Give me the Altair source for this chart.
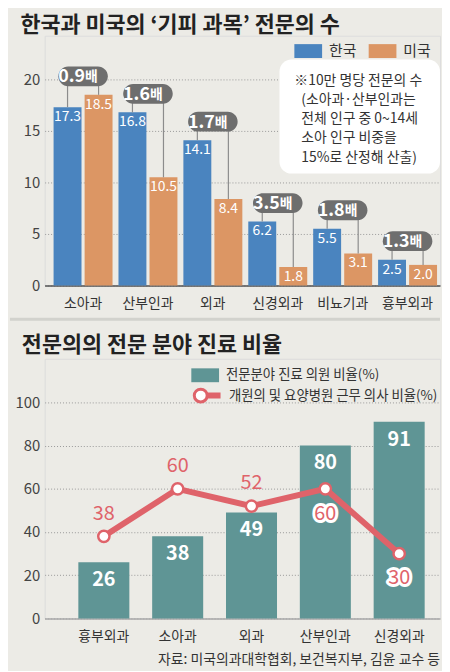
import altair as alt
import pandas as pd

FONT = "Noto Sans CJK KR"

# ---------------- data ----------------
title_top = "한국과 미국의 ‘기피 과목’ 전문의 수"
countries = ["한국", "미국"]
country_colors = ["#4a84bf", "#dc9664"]
specialties_top = ["소아과", "산부인과", "외과", "신경외과", "비뇨기과", "흉부외과"]
korea = [17.3, 16.8, 14.1, 6.2, 5.5, 2.5]
usa = [18.5, 10.5, 8.4, 1.8, 3.1, 2.0]
ratios = ["0.9", "1.6", "1.7", "3.5", "1.8", "1.3"]
ratio_unit = "배"
note_first = "※10만 명당 전문의 수"
note_rest = ["(소아과·산부인과는", "전체 인구 중 0~14세", "소아 인구 비중을", "15%로 산정해 산출)"]

title_bottom = "전문의의 전문 분야 진료 비율"
specialties_bottom = ["흉부외과", "소아과", "외과", "산부인과", "신경외과"]
specialty_share = [26, 38, 49, 80, 91]
clinic_share = [38, 60, 52, 60, 30]
bar_series = "전문분야 진료 의원 비율(%)"
line_series = "개원의 및 요양병원 근무 의사 비율(%)"
source = "자료: 미국의과대학협회, 보건복지부, 김윤 교수 등"

# ---------------- tables ----------------
long_rows = []
for s, k, u in zip(specialties_top, korea, usa):
    long_rows.append({"specialty": s, "country": countries[0], "value": k})
    long_rows.append({"specialty": s, "country": countries[1], "value": u})
top_long = pd.DataFrame(long_rows)
top_wide = pd.DataFrame({"specialty": specialties_top, "korea": korea, "usa": usa, "ratio": ratios})
top_wide["top"] = top_wide[["korea", "usa"]].max(axis=1)
note_df = pd.DataFrame({"note": [note_first]})

bot = pd.DataFrame({
    "specialty": specialties_bottom,
    "idx": list(range(len(specialties_bottom))),
    "bar": specialty_share,
    "line": clinic_share,
})

# ---------------- style ----------------
BG = "#ecebe6"
TXT = "#333333"
RED = "#df636a"
TEAL = "#5f9595"
BADGE = "#6e6e6e"
W_TOP, H_TOP = 399, 252
W_BOT, H_BOT = 399, 262
TOP_MAX = H_TOP / 10.4
BOT_MAX = H_BOT / 2.18
RECT = "M-1,-0.5L1,-0.5L1,0.5L-1,0.5Z"
STADIUM = "M-0.6,-0.4L0.6,-0.4A0.4,0.4 0 0,1 0.6,0.4L-0.6,0.4A0.4,0.4 0 0,1 -0.6,-0.4Z"
LOLLI = ("M-0.893,0A0.464,0.464 0 1,1 0.036,0A0.464,0.464 0 1,1 -0.893,0Z"
         "M0.036,-0.107L0.893,-0.107L0.893,0.107L0.036,0.107Z")

x_axis_top = alt.Axis(title=None, labelAngle=0, labelFontSize=14, labelColor=TXT,
                      labelPadding=11, ticks=False, domainColor="#555555", domainWidth=1.5,
                      grid=False, labelFont=FONT)
y_axis_top = alt.Axis(title=None, values=[0, 5, 10, 15, 20], grid=True, gridDash=[1, 2],
                      gridColor="#999999", ticks=False, domain=False, labelFontSize=15,
                      labelPadding=5, labelColor="#444444", labelFont=FONT)


def xt():
    return alt.X("specialty:N", sort=specialties_top,
                 scale=alt.Scale(paddingInner=0.0916, paddingOuter=0.0916, align=0.75),
                 axis=x_axis_top)


def yt(field):
    return alt.Y(f"{field}:Q", scale=alt.Scale(domain=[0, TOP_MAX], nice=False, zero=True),
                 axis=y_axis_top)


xoff = alt.XOffset("country:N", sort=countries, scale=alt.Scale(paddingInner=0.1, paddingOuter=0))

bars_top = alt.Chart(top_long).mark_bar().encode(
    x=xt(), xOffset=xoff, y=yt("value"),
    color=alt.Color("country:N", sort=countries,
                    scale=alt.Scale(domain=countries, range=country_colors),
                    legend=alt.Legend(title=None, orient="none", legendX=252, legendY=1.4,
                                      direction="horizontal", symbolType=RECT, symbolSize=784,
                                      symbolStrokeWidth=0, labelFontSize=15, labelOffset=7,
                                      columnPadding=12, padding=0, labelColor=TXT,
                                      labelFont=FONT, symbolOpacity=1)),
)

labels_top = alt.Chart(top_long).mark_text(color="white", fontSize=14, baseline="top", dy=3,
                                           font=FONT).encode(
    x=xt(), xOffset=xoff, y=yt("value"), text=alt.Text("value:Q", format=".1f"),
)

connectors = alt.Chart(top_long).transform_joinaggregate(
    top="max(value)", groupby=["specialty"]
).transform_calculate(badge_y="datum.top + 1.8").mark_rule(
    color="#8c8c8c", strokeWidth=1.2
).encode(x=xt(), xOffset=xoff, y=yt("value"), y2="badge_y:Q")

badge_base = alt.Chart(top_wide).transform_calculate(badge_y="datum.top + 1.8")
badges = badge_base.mark_point(shape=STADIUM, size=2500, filled=True, color=BADGE,
                               opacity=1, strokeWidth=0).encode(x=xt(), y=yt("badge_y"))
badge_num = badge_base.mark_text(color="white", fontSize=18, fontWeight="bold", align="right",
                                 baseline="middle", dx=2, dy=1, font=FONT).encode(
    x=xt(), y=yt("badge_y"), text="ratio:N")
badge_unit = badge_base.mark_text(color="white", fontSize=14, fontWeight="bold", align="left",
                                  baseline="middle", dx=2, dy=1, font=FONT).encode(
    x=xt(), y=yt("badge_y"), text=alt.value(ratio_unit))

note_box = alt.Chart(note_df).mark_rect(fill="white", cornerRadius=12).encode(
    x=alt.value(237), x2=alt.value(399), y=alt.value(24), y2=alt.value(139))
note_text1 = alt.Chart(note_df).mark_text(align="left", baseline="middle", fontSize=14,
                                          color=TXT, font=FONT).encode(
    x=alt.value(252), y=alt.value(46), text=alt.value(note_first))
note_text2 = alt.Chart(note_df).mark_text(align="left", baseline="middle", fontSize=14,
                                          lineHeight=19.3, color=TXT, font=FONT).encode(
    x=alt.value(259), y=alt.value(65), text=alt.value(note_rest))
divider = alt.Chart(note_df).mark_rule(color="#d2d2cd", strokeWidth=3).encode(
    x=alt.value(-35), x2=alt.value(399), y=alt.value(H_TOP + 34))

top = alt.layer(
    bars_top, connectors, labels_top, badges, badge_num, badge_unit,
    note_box, note_text1, note_text2, divider,
).properties(
    width=W_TOP, height=H_TOP,
    title=alt.TitleParams(title_top, anchor="start", fontSize=22, fontWeight="bold",
                          color="#222222", dx=12, offset=-1, font=FONT),
)

# ---------------- bottom ----------------
x_axis_bot = alt.Axis(title=None, labelAngle=0, labelFontSize=14, labelColor=TXT,
                      labelPadding=11, ticks=False, domainColor="#aaaaaa", domainWidth=1.5,
                      grid=False, labelFont=FONT)
y_axis_bot = alt.Axis(title=None, values=[0, 20, 40, 60, 80, 100], grid=True, gridDash=[1, 2],
                      gridColor="#999999", ticks=False, domain=False, labelFontSize=15,
                      labelPadding=5, labelColor="#444444", labelFont=FONT)


def xb():
    return alt.X("specialty:N", sort=specialties_bottom,
                 scale=alt.Scale(paddingInner=0.309, paddingOuter=0.332, align=0.687),
                 axis=x_axis_bot)


def yb(field):
    return alt.Y(f"{field}:Q", scale=alt.Scale(domain=[0, BOT_MAX], nice=False), axis=y_axis_bot)


bot_base = alt.Chart(bot).transform_calculate(
    bar_name=f"'{bar_series}'", line_name=f"'{line_series}'")

bars_bot = bot_base.mark_bar().encode(
    x=xb(), y=yb("bar"),
    fill=alt.Fill("bar_name:N", scale=alt.Scale(range=[TEAL]),
                  legend=alt.Legend(title=None, orient="none", legendX=148, legendY=2.6,
                                    symbolType=RECT, symbolSize=784, symbolStrokeWidth=0,
                                    labelFontSize=13.5, labelOffset=7, padding=0, labelLimit=0,
                                    labelColor=TXT, labelFont=FONT, symbolOpacity=1)),
)
bar_labels = bot_base.mark_text(color="white", fontSize=20, fontWeight="bold",
                                baseline="middle", dy=18, font=FONT).encode(
    x=xb(), y=yb("bar"), text="bar:Q")

line = bot_base.mark_line(strokeWidth=6).encode(
    x=xb(), y=yb("line"), order="idx:Q",
    stroke=alt.Stroke("line_name:N", scale=alt.Scale(range=[RED]),
                      legend=alt.Legend(title=None, orient="none", legendX=148, legendY=21.6,
                                        symbolType=LOLLI, symbolSize=784, symbolStrokeWidth=3,
                                        symbolFillColor="white", labelFontSize=13.5,
                                        labelOffset=7, padding=0, labelLimit=0, labelColor=TXT,
                                        labelFont=FONT, symbolOpacity=1)),
)
points = bot_base.mark_point(filled=True, fill="white", stroke=RED, strokeWidth=2.5,
                             size=130, opacity=1).encode(x=xb(), y=yb("line"))
above = bot_base.transform_filter("datum.bar <= datum.line").mark_text(
    color=RED, fontSize=20, baseline="middle", dy=-23, font=FONT).encode(
    x=xb(), y=yb("line"), text="line:Q")
below_halo = bot_base.transform_filter("datum.bar > datum.line").mark_text(
    fill="white", stroke="white", strokeWidth=6, strokeJoin="round", fontSize=20,
    baseline="middle", dy=25, font=FONT).encode(x=xb(), y=yb("line"), text="line:Q")
below = bot_base.transform_filter("datum.bar > datum.line").mark_text(
    color=RED, fontSize=20, baseline="middle", dy=25, font=FONT).encode(
    x=xb(), y=yb("line"), text="line:Q")
source_text = alt.Chart(note_df).mark_text(align="right", baseline="middle", fontSize=14,
                                           color=TXT, font=FONT).encode(
    x=alt.value(399), y=alt.value(H_BOT + 42), text=alt.value(source))
left_edge = alt.Chart(note_df).mark_rule(strokeOpacity=0).encode(
    x=alt.value(-35), x2=alt.value(-34), y=alt.value(H_BOT))

bottom = alt.layer(
    bars_bot, bar_labels, line, points, above, below_halo, below, source_text, left_edge
).properties(
    width=W_BOT, height=H_BOT,
    title=alt.TitleParams(title_bottom, anchor="start", fontSize=22, fontWeight="bold",
                          color="#222222", dx=12, offset=2, font=FONT),
)

chart = alt.vconcat(top, bottom, spacing=12).resolve_scale(
    x="independent", y="independent", color="independent",
    fill="independent", stroke="independent", xOffset="independent",
).properties(
    background=BG, padding={"left": 0, "top": 2, "right": 0, "bottom": 0},
).configure_view(stroke=None).configure(font=FONT)

chart.save("out.html", embed_options={"renderer": "svg", "actions": False})
